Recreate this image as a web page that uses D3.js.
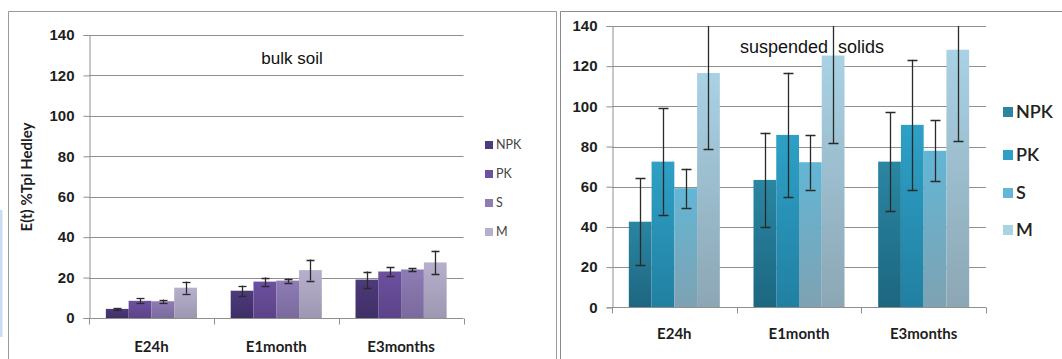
<!DOCTYPE html>
<html>
<head>
<meta charset="utf-8">
<script src="https://cdn.jsdelivr.net/npm/d3@7"></script>
<style>
  body { margin: 0; background: #fff; }
  svg { display: block; font-family: Lato, "Open Sans", sans-serif; }
</style>
</head>
<body>
<div id="chart"></div>
<script>
// categories and series
const categories = ["E24h", "E1month", "E3months"];
const series = ["NPK", "PK", "S", "M"];
const yTicks = [0, 20, 40, 60, 80, 100, 120, 140];

// bulk soil: values per series, one entry per category
const bulkValues = {
  NPK: [4.5, 13.5, 19],
  PK: [8.5, 18, 23],
  S: [8.3, 18.5, 24],
  M: [15, 23.7, 27.5]
};
const bulkErrors = {
  NPK: [0.5, 2.5, 4],
  PK: [1.2, 2, 2],
  S: [0.8, 1, 0.7],
  M: [3, 5.2, 5.8]
};

// suspended solids
const suspValues = {
  NPK: [42.6, 63.4, 72.5],
  PK: [72.5, 85.8, 90.8],
  S: [59.3, 72.2, 77.9],
  M: [116.6, 125.3, 128.2]
};
const suspErrors = {
  NPK: [21.7, 23.5, 24.7],
  PK: [26.5, 30.9, 32.4],
  S: [9.7, 13.6, 15.1],
  M: [37.9, 43.6, 45.5]
};

const bulkColors = {
  NPK: ["#4d3a7a", "#3f2f66"],
  PK: ["#6d50a0", "#5c4388"],
  S: ["#8e7cb6", "#7a6a9c"],
  M: ["#b7b0cc", "#9e97b2"]
};
const suspColors = {
  NPK: ["#2a86a2", "#1d6680"],
  PK: ["#2ea0c6", "#2180a2"],
  S: ["#62b6d6", "#7ea2b2"],
  M: ["#a9d2e4", "#8ca6b4"]
};

const svg = d3.select("#chart").append("svg")
  .attr("width", 1062)
  .attr("height", 359);

const defs = svg.append("defs");

// panel frames
svg.append("rect").attr("x", 0).attr("y", 210).attr("width", 2.5).attr("height", 127).attr("fill", "#c9ddf5");
svg.append("path").attr("d", "M8.5,359V11.5H556.5V359").attr("fill", "none").attr("stroke", "#9a9a9a");
svg.append("path").attr("d", "M560.5,359V11.5H1062").attr("fill", "none").attr("stroke", "#8a8a8a");

function drawChart(opt) {
  const g = svg.append("g");

  const y = d3.scaleLinear().domain([0, 140]).range([opt.bottom, opt.top]);
  const x = d3.scaleBand().domain(categories).range([opt.left, opt.right])
    .paddingInner(0.27).paddingOuter(0.135);
  const xs = d3.scaleBand().domain(series).range([0, x.bandwidth()]);

  // gradients
  series.forEach(s => {
    const gr = defs.append("linearGradient")
      .attr("id", opt.id + s).attr("x1", 0).attr("y1", 0).attr("x2", 0).attr("y2", 1);
    gr.append("stop").attr("offset", "0%").attr("stop-color", opt.colors[s][0]);
    gr.append("stop").attr("offset", "100%").attr("stop-color", opt.colors[s][1]);
  });

  // gridlines
  g.append("g").selectAll("line").data(yTicks.slice(1)).join("line")
    .attr("x1", opt.left).attr("x2", opt.right)
    .attr("y1", d => Math.round(y(d)) + 0.5).attr("y2", d => Math.round(y(d)) + 0.5)
    .attr("stroke", "#8f8f8f");

  // y axis
  const yAxis = g.append("g")
    .attr("transform", `translate(${opt.left + 0.5},0)`)
    .call(d3.axisLeft(y).tickValues(yTicks).tickSize(6).tickPadding(9));
  yAxis.select(".domain").attr("stroke", "#8f8f8f");
  yAxis.selectAll(".tick line").attr("stroke", "#8f8f8f");
  yAxis.selectAll("text").attr("font-size", 15).attr("font-weight", "bold").attr("fill", "#1e1e1e");

  // bars
  const items = [];
  categories.forEach((c, i) => series.forEach(s => {
    items.push({ c: c, s: s, v: opt.values[s][i], e: opt.errors[s][i] });
  }));

  g.append("g").selectAll("rect").data(items).join("rect")
    .attr("x", d => x(d.c) + xs(d.s))
    .attr("width", xs.bandwidth())
    .attr("y", d => y(d.v))
    .attr("height", d => y(0) - y(d.v))
    .attr("fill", d => `url(#${opt.id}${d.s})`);

  // x axis
  const baseY = Math.round(y(0)) + 0.5;
  const xAxis = g.append("g");
  xAxis.append("line").attr("x1", opt.left).attr("x2", opt.right)
    .attr("y1", baseY).attr("y2", baseY).attr("stroke", "#8f8f8f");
  const bounds = [opt.left, opt.left + x.step(), opt.left + 2 * x.step(), opt.right];
  xAxis.selectAll("line.tk").data(bounds).join("line")
    .attr("class", "tk")
    .attr("x1", d => Math.round(d) + 0.5).attr("x2", d => Math.round(d) + 0.5)
    .attr("y1", baseY).attr("y2", baseY + 6).attr("stroke", "#8f8f8f");
  xAxis.selectAll("text.cat").data(categories).join("text")
    .attr("class", "cat")
    .attr("x", d => x(d) + x.bandwidth() / 2)
    .attr("y", opt.catY)
    .attr("text-anchor", "middle")
    .attr("font-size", 15).attr("font-weight", "bold").attr("fill", "#1e1e1e")
    .text(d => d);

  // error bars, clipped to plot area
  defs.append("clipPath").attr("id", opt.id + "clip")
    .append("rect").attr("x", opt.left).attr("y", opt.top)
    .attr("width", opt.right - opt.left).attr("height", opt.bottom - opt.top);
  const eb = g.append("g").attr("clip-path", `url(#${opt.id}clip)`)
    .selectAll("g").data(items).join("g")
    .attr("stroke", "#2a2a2a").attr("stroke-width", 1.3);
  const cx = d => Math.round(x(d.c) + xs(d.s) + xs.bandwidth() / 2) + 0.5;
  eb.append("line").attr("x1", cx).attr("x2", cx)
    .attr("y1", d => y(d.v + d.e)).attr("y2", d => y(d.v - d.e));
  [1, -1].forEach(sgn => {
    eb.append("line")
      .attr("x1", d => cx(d) - opt.cap).attr("x2", d => cx(d) + opt.cap)
      .attr("y1", d => Math.round(y(d.v + sgn * d.e)) + 0.5)
      .attr("y2", d => Math.round(y(d.v + sgn * d.e)) + 0.5);
  });

  // title
  g.append("text").attr("x", opt.titleX).attr("y", opt.titleY)
    .attr("text-anchor", "middle")
    .attr("font-family", "'Liberation Sans', Arial, sans-serif")
    .attr("font-size", opt.titleSize).attr("fill", "#111")
    .style("white-space", "pre")
    .text(opt.title);

  // legend
  const lg = g.append("g").selectAll("g").data(series).join("g")
    .attr("transform", (d, i) => `translate(${opt.legX},${opt.legY[i]})`);
  lg.append("rect").attr("x", 0).attr("y", -opt.sq / 2).attr("width", opt.sq).attr("height", opt.sq)
    .attr("fill", d => opt.colors[d][0]);
  lg.append("text").attr("x", opt.sq + 3).attr("y", 0).attr("dy", "0.35em")
    .attr("font-size", opt.legFont).attr("font-weight", opt.legWeight).attr("fill", opt.legColor)
    .text(d => d);
}

drawChart({
  id: "bulk", left: 89, right: 463.5, top: 35, bottom: 318,
  values: bulkValues, errors: bulkErrors, colors: bulkColors,
  catY: 352, cap: 4, title: "bulk soil", titleX: 292, titleY: 64, titleSize: 17,
  legX: 485, legY: [145, 174, 203, 232], sq: 8, legFont: 12.5, legWeight: "normal", legColor: "#444"
});

drawChart({
  id: "susp", left: 612, right: 986, top: 26, bottom: 307.3,
  values: suspValues, errors: suspErrors, colors: suspColors,
  catY: 339, cap: 5, title: "suspended\u00a0 solids", titleX: 812, titleY: 53, titleSize: 18,
  legX: 1003, legY: [112, 155, 193, 230], sq: 10, legFont: 18, legWeight: "600", legColor: "#222"
});

// y axis title on the left chart
svg.append("text")
  .attr("transform", "translate(32,177) rotate(-90)")
  .attr("text-anchor", "middle")
  .attr("font-size", 15).attr("font-weight", "bold").attr("fill", "#1e1e1e")
  .text("E(t) %Tpi Hedley");
</script>
</body>
</html>
